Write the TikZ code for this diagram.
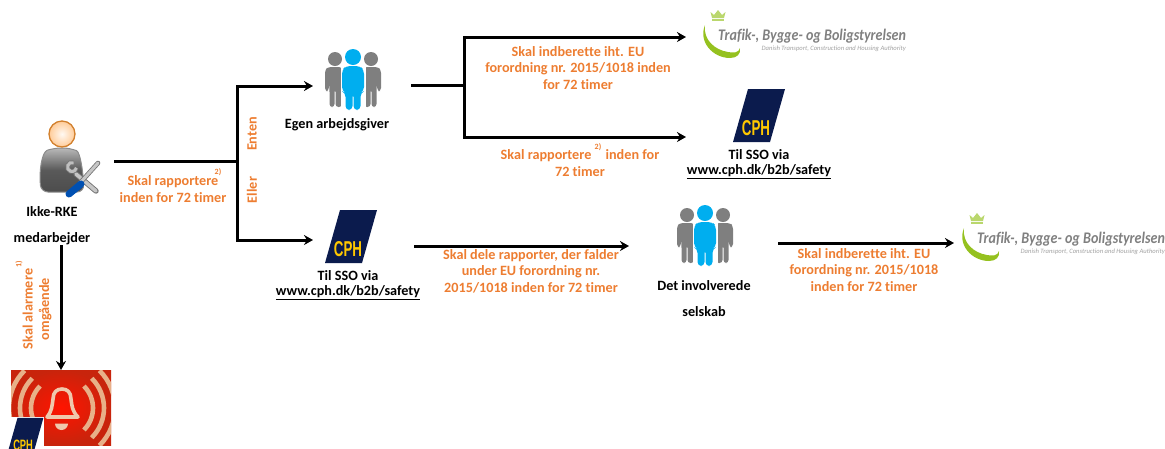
\documentclass[tikz,border=0pt]{standalone}
\usepackage{fontspec}
\setmainfont{Carlito}[Ligatures=NoCommon]
\newfontfamily\logofont{Liberation Sans}
\usetikzlibrary{arrows.meta,shadings}
\definecolor{orangetxt}{HTML}{ED7D31}
\definecolor{cphblue}{HTML}{0B1B4D}
\definecolor{cphyellow}{HTML}{FFC800}
\definecolor{peoplegrey}{HTML}{7F7F7F}
\definecolor{peopleblue}{HTML}{00AEEF}
\definecolor{swoosh}{HTML}{95C11F}
\definecolor{logogrey}{HTML}{808080}
\definecolor{ringtan}{HTML}{E8B088}
\definecolor{bellred}{HTML}{FF1400}
\definecolor{belledge}{HTML}{C8240C}
\tikzset{
  x=1pt,y=-1pt,
  link/.style={line width=3pt,black},
  arrowlink/.style={link,-{Stealth[length=9pt,width=10pt]}},
  lbl/.style={font=\bfseries\fontsize{14.2}{16.5}\selectfont,text=orangetxt,align=center,inner sep=0pt},
  blk/.style={font=\bfseries\fontsize{14.2}{16.5}\selectfont,text=black,align=center,inner sep=0pt},
  supr/.style={font=\bfseries\fontsize{8}{8}\selectfont,text=orangetxt,inner sep=0pt},
  ring/.style={ringtan,line width=4.6pt},
  pics/cph/.style={code={
    \fill[cphblue] (0,0)--(15,-53)--(52,-53)--(37,0)--cycle;
    \node[font=\bfseries\fontsize{21.5}{21.5}\selectfont,text=cphyellow,inner sep=0pt,transform shape,xscale=.62] at (23,-13.5) {\logofont CPH};
  }},
  pics/folk/.style={code={
    \fill[peoplegrey] (10,8) circle (7);
    \fill[peoplegrey] (46,8) circle (7);
    \fill[peoplegrey,rounded corners=3] (0,19)--(3,16)--(17,16)--(17,56)--(10.5,56)--(10.5,38)--(9.5,38)--(9.5,56)--(4.5,56)--(4.5,38)--(3.8,30)--(3.8,40)--(0,40)--cycle;
    \fill[peoplegrey,rounded corners=3] (56,19)--(53,16)--(39,16)--(39,56)--(45.5,56)--(45.5,38)--(46.5,38)--(46.5,56)--(51.5,56)--(51.5,38)--(52.2,30)--(52.2,40)--(56,40)--cycle;
    \fill[white] (15.5,14) rectangle (40.5,60);
    \fill[peopleblue] (28,6) circle (8);
    \fill[peopleblue,rounded corners=4] (17,19)--(21,15)--(35,15)--(39,19)--(39,40)--(35.5,42)--(35.5,59)--(28.5,59)--(28.5,42)--(27.5,42)--(27.5,59)--(20.5,59)--(20.5,42)--(17,40)--cycle;
  }},
  pics/trafik/.style={code={
    \fill[swoosh] (2,1) .. controls (-5,18) and (10,34) .. (27,34) .. controls (34,34) and (38,30) .. (37,24) .. controls (36,29) and (30,29) .. (25,28) .. controls (12,26) and (0,16) .. (2,1) -- cycle;
    \fill[swoosh!65] (9,-6)--(7.5,-12)--(11,-9)--(15,-14)--(19,-9)--(22.5,-12)--(21,-6)--cycle;
    \fill[swoosh!65] (9,-5) rectangle (21,-3);
    \node[anchor=west,inner sep=0pt,font=\bfseries\itshape\fontsize{16.2}{17}\selectfont,text=logogrey,xscale=.87] at (15,12) {Trafik-, Bygge- og Boligstyrelsen};
    \node[anchor=east,inner sep=0pt,font=\itshape\fontsize{6.6}{7}\selectfont,text=logogrey!75] at (203,25) {Danish Transport, Construction and Housing Authority};
  }},
}
\begin{document}
\begin{tikzpicture}
\useasboundingbox (0,0) rectangle (1165,448);
\clip (0,0) rectangle (1165,448);
% worker icon
\shade[top color=gray!55,bottom color=black!70,middle color=black!65,draw=black!45,line width=1pt,rounded corners=7]
 (41,192) .. controls (39,170) and (42,152) .. (54,148) -- (70,148) .. controls (80,152) and (83,170) .. (84,192) -- cycle;
\shade[inner color=white!95!orange,outer color=orange!40,draw=brown!70!orange,line width=1.3pt] (62,134) circle (13);
\draw[black!55,line width=5.4pt,line cap=round] (76,174)--(96,191);
\draw[black!55,line width=4.6pt] (72,167) ++(-70:4.5) arc[start angle=-70,end angle=-350,radius=4.5];
\draw[gray!50,line width=3pt] (72,167) ++(-70:4.5) arc[start angle=-70,end angle=-350,radius=4.5];
\draw[gray!45,line width=3.6pt,line cap=round] (76,174)--(96,191);
\draw[black!55,line width=4.6pt,line cap=round] (98,163)--(80,183);
\draw[gray!45,line width=3pt,line cap=round] (98,163)--(80,183);
\draw[blue!55!cyan!70!black,line width=7pt,line cap=round] (81,184)--(69,194);
% bell
\shade[inner color=bellred,outer color=belledge] (11,370) rectangle (111,445);
\begin{scope}
\clip (11,370) rectangle (111,445);
\foreach \r in {31,42,53}{
  \draw[ring] (62,408) ++(-45:\r) arc[start angle=-45,end angle=45,radius=\r];
  \draw[ring] (62,408) ++(135:\r) arc[start angle=135,end angle=225,radius=\r];
}
\end{scope}
\draw[ringtan!70!white,line width=3.6pt,line join=round] (47,417)--(78,417) .. controls (72,411) and (72,406) .. (71,399) .. controls (71,392) and (67,389) .. (62,389) .. controls (57,389) and (53,392) .. (53,399) .. controls (52,406) and (52,411) .. (47,417)--cycle;
\fill[ringtan!70!white] (55,423.5) arc[start angle=180,end angle=0,radius=6.5] -- cycle;
\fill[white] (0,417) rectangle (44,448);
\pic at (7,455) [scale=.7] {cph};
% logos
\pic at (733,142) {cph};
\pic at (325,263) {cph};
\pic at (325,51) {folk};
\pic at (677,207) {folk};
\pic at (703,24) {trafik};
\pic at (962,227) {trafik};
% black labels
\node[blk] (ikke) at (52,212) {Ikke-RKE};
\node[blk] (medarb) at (52,239) {medarbejder};
\node[blk] (egen) at (337,125) {Egen arbejdsgiver};
\node[blk] (sso1) at (759,155) {Til SSO via};
\node[blk] (url1) at (759,172) {\underline{www.cph.dk/b2b/safety}};
\node[blk] (sso2) at (348,276) {Til SSO via};
\node[blk] (url2) at (348,293) {\underline{www.cph.dk/b2b/safety}};
\node[blk] (inv) at (704,286) {Det involverede};
\node[blk] (selskab) at (704,312) {selskab};
% orange labels
\node[lbl] at (173,189) {Skal rapportere\\inden for 72 timer};
\node[supr] at (218,172) {2)};
\node[lbl,rotate=90] at (252,134) {Enten};
\node[lbl,rotate=90] at (252,190) {Eller};
\node[lbl,rotate=90] at (37,309) {Skal alarmere\\omgående};
\node[supr,rotate=90] at (19,264) {1)};
\node[lbl] at (578,68) {Skal indberette iht. EU\\forordning nr. 2015/1018 inden\\for 72 timer};
\node[lbl] at (580,163) {Skal rapportere\hspace{11pt} inden for\\72 timer};
\node[supr] at (598,147) {2)};
\node[lbl] at (531,271) {Skal dele rapporter, der falder\\under EU forordning nr.\\2015/1018 inden for 72 timer};
\node[lbl] at (864,270) {Skal indberette iht. EU\\forordning nr. 2015/1018\\inden for 72 timer};
% connector anchors
\coordinate (w) at (114,161);
\coordinate (j1) at (237,161);
\coordinate (j1t) at (237,86);
\coordinate (j1b) at (237,240);
\coordinate (e1) at (313,86);
\coordinate (e2) at (313,240);
\coordinate (f1) at (411,85);
\coordinate (j2) at (464,85);
\coordinate (j2t) at (464,37);
\coordinate (j2b) at (464,137);
\coordinate (e3) at (686,37);
\coordinate (e4) at (686,137);
\coordinate (f2) at (414,246);
\coordinate (e5) at (629,246);
\coordinate (f3) at (778,243);
\coordinate (e6) at (954,243);
\coordinate (m) at (61,245);
\coordinate (b) at (61,370);
\draw[link] (w)--(j1);
\draw[arrowlink] (j1t)--(e1);
\draw[arrowlink] (j1b)--(e2);
\draw[link,line cap=rect] (j1t)--(j1b);
\draw[link] (f1)--(j2);
\draw[link,line cap=rect] (j2t)--(j2b);
\draw[arrowlink] (j2t)--(e3);
\draw[arrowlink] (j2b)--(e4);
\draw[arrowlink] (f2)--(e5);
\draw[arrowlink] (f3)--(e6);
\draw[arrowlink] (m)--(b);
\end{tikzpicture}
\end{document}
